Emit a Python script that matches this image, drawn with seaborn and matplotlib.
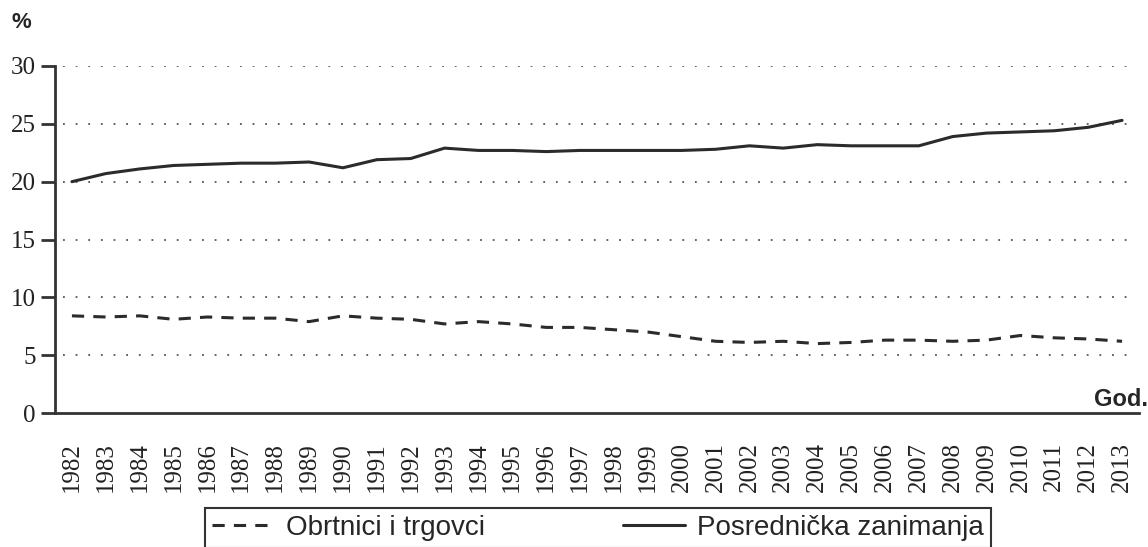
import numpy as np
import pandas as pd
import matplotlib
matplotlib.use("Agg")
import matplotlib.pyplot as plt
import seaborn as sns

# data
years = list(range(1982, 2014))
obrtnici = [8.4, 8.3, 8.4, 8.1, 8.3, 8.2, 8.2, 7.9, 8.4, 8.2,
            8.1, 7.7, 7.9, 7.7, 7.4, 7.4, 7.2, 7.0, 6.6, 6.2,
            6.1, 6.2, 6.0, 6.1, 6.3, 6.3, 6.2, 6.3, 6.7, 6.5,
            6.4, 6.2]
posrednicka = [20.0, 20.7, 21.1, 21.4, 21.5, 21.6, 21.6, 21.7, 21.2, 21.9,
               22.0, 22.9, 22.7, 22.7, 22.6, 22.7, 22.7, 22.7, 22.7, 22.8,
               23.1, 22.9, 23.2, 23.1, 23.1, 23.1, 23.9, 24.2, 24.3, 24.4,
               24.7, 25.3]
y_ticks = [0, 5, 10, 15, 20, 25, 30]

sns.set_theme(style="white")
plt.rcParams['font.family'] = ['Liberation Serif', 'DejaVu Serif']

df = pd.DataFrame({'pos': np.arange(len(years)),
                   'obrtnici': obrtnici,
                   'posrednicka': posrednicka})

fig = plt.figure(figsize=(11.48, 5.47), dpi=100)
ax = fig.add_axes([55 / 1148, 1 - 413 / 547, (1139 - 55) / 1148, (413 - 66) / 547])

line_col = '#2b2b2b'
sns.lineplot(data=df, x='pos', y='obrtnici', ax=ax, color=line_col,
             linewidth=2.2, linestyle=(0, (4, 3)), label='Obrtnici i trgovci')
sns.lineplot(data=df, x='pos', y='posrednicka', ax=ax, color=line_col,
             linewidth=2.2, label='Posrednička zanimanja')

ax.set_xlim(-0.5, len(years) - 0.5)
ax.set_ylim(0, 30)
ax.set_xlabel('')
ax.set_ylabel('')

# dotted gridlines
for v in y_ticks[1:]:
    ax.axhline(v, xmin=0.007, xmax=0.997, color='#555555', linestyle=(0, (1, 6)),
               linewidth=1.3, zorder=0)

ax.set_yticks(y_ticks)
ax.set_yticklabels([str(v) for v in y_ticks], fontsize=18, color='#222222')

# labels in category centres, tick marks on category boundaries
ax.set_xticks(np.arange(len(years)))
ax.set_xticklabels([str(y) for y in years], rotation=90, fontsize=18, color='#222222')
ax.set_xticks(np.arange(len(years) + 1) - 0.5, minor=True)
ax.tick_params(axis='x', which='major', length=0, pad=21)
ax.tick_params(axis='x', which='minor', length=11, width=2, color='#333333', direction='out')
ax.tick_params(axis='y', which='major', length=10, width=2, color='#333333',
               direction='out', pad=4, left=True)

sns.despine(ax=ax)
for side in ['left', 'bottom']:
    ax.spines[side].set_color('#333333')
    ax.spines[side].set_linewidth(2)

fig.text(11 / 1148, 1 - 23 / 547, '%', fontsize=16, fontweight='bold',
         family=['Liberation Sans', 'DejaVu Sans'], va='center', ha='left')
fig.text(1148 / 1148, 1 - 399 / 547, 'God.', fontsize=17, fontweight='bold',
         family=['Liberation Sans', 'DejaVu Sans'], va='center', ha='right')

ax.get_legend().remove()
handles, labels = ax.get_legend_handles_labels()
leg = fig.legend(handles, labels, loc='upper left',
                 bbox_to_anchor=(205 / 1148, 1 - 508 / 547), ncol=2,
                 frameon=True, fancybox=False, framealpha=1,
                 prop={'family': 'Liberation Sans', 'size': 20},
                 handlelength=2.2, handletextpad=0.45, columnspacing=5.0,
                 borderpad=0.25, borderaxespad=0)
leg.get_frame().set_edgecolor('#333333')
leg.get_frame().set_linewidth(1.5)

fig.savefig('out.png', dpi=100)
